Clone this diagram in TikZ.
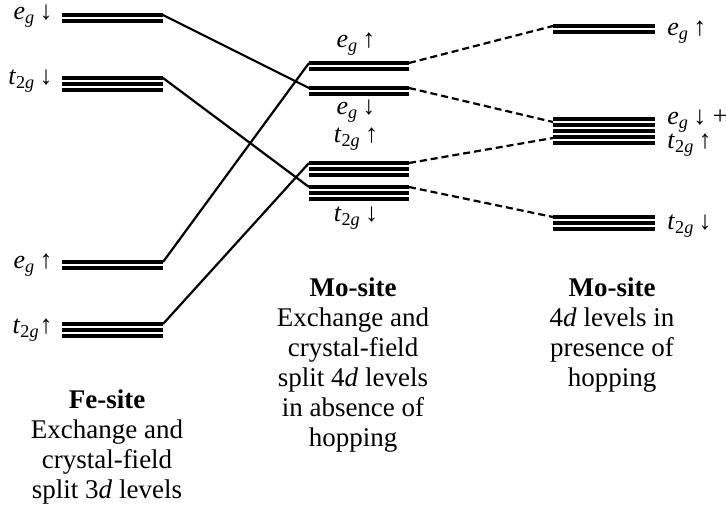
\documentclass[tikz,border=0pt]{standalone}
\usepackage{fontspec}
\setmainfont{Liberation Serif}
\newcommand{\egl}{\textit{e}\textsubscript{\textit{g}}}
\newcommand{\tgl}{\textit{t}\textsubscript{2\textit{g}}}
\newcommand{\levelset}[4]% xleft, xright, ytop, lines
{\foreach \k in {1,...,#4}
  {\draw[level] (#1,#3+6*\k-6) -- (#2,#3+6*\k-6);}
}

\begin{document}
\begin{tikzpicture}[x=0.5pt,y=-0.5pt,
  level/.style={line width=1.6pt},
  link/.style={line width=1.1pt},
  hop/.style={link,dash pattern=on 3.5pt off 2pt},
  lab/.style={font=\fontsize{13}{15}\selectfont,inner sep=0pt},
  site/.style={align=center,font=\fontsize{13.5}{15}\selectfont,inner sep=0pt,anchor=north}]
  \useasboundingbox (0,0) rectangle (726,506);
  % Fe-site levels
  \levelset{62}{163}{15}{2}
  \levelset{62}{163}{78}{3}
  \levelset{62}{163}{262}{2}
  \levelset{62}{163}{324}{3}
  % Mo-site, no hopping
  \levelset{309}{409}{63}{2}
  \levelset{309}{409}{88}{2}
  \levelset{309}{409}{163}{3}
  \levelset{309}{409}{187}{3}
  % Mo-site, hopping
  \levelset{553}{655}{26}{2}
  \levelset{553}{655}{119}{2}
  \levelset{553}{655}{131}{3}
  \levelset{553}{655}{217}{3}
  % end points
  \coordinate (feEgDn) at (163,15);
  \coordinate (feTgDn) at (163,78);
  \coordinate (feEgUp) at (163,262);
  \coordinate (feTgUp) at (163,324);
  \coordinate (moEgUpL) at (309,63);
  \coordinate (moEgDnL) at (309,88);
  \coordinate (moTgUpL) at (309,163);
  \coordinate (moTgDnL) at (309,187);
  \coordinate (moEgUpR) at (409,63);
  \coordinate (moEgDnR) at (409,88);
  \coordinate (moTgUpR) at (409,163);
  \coordinate (moTgDnR) at (409,187);
  \coordinate (hopEgUp) at (553,26);
  \coordinate (hopEgDn) at (553,122);
  \coordinate (hopTgUp) at (553,138);
  \coordinate (hopTgDn) at (553,217);
  \draw[link] (feEgDn) -- (moEgDnL);
  \draw[link] (feTgDn) -- (moTgDnL);
  \draw[link] (feEgUp) -- (moEgUpL);
  \draw[link] (feTgUp) -- (moTgUpL);
  \draw[hop] (moEgUpR) -- (hopEgUp);
  \draw[hop] (moEgDnR) -- (hopEgDn);
  \draw[hop] (moTgUpR) -- (hopTgUp);
  \draw[hop] (moTgDnR) -- (hopTgDn);
  % labels
  \node[lab,anchor=base east] (lFeEgDn) at (53,20) {\egl\,↓};
  \node[lab,anchor=base east] (lFeTgDn) at (53,85) {\tgl\,↓};
  \node[lab,anchor=base east] (lFeEgUp) at (53,269) {\egl\,↑};
  \node[lab,anchor=base east] (lFeTgUp) at (53,334) {\tgl↑};
  \node[lab,anchor=base] (lMoEgUp) at (356,48) {\egl\,↑};
  \node[lab,anchor=base] (lMoEgDn) at (356,115) {\egl\,↓};
  \node[lab,anchor=base] (lMoTgUp) at (356,143) {\tgl\,↑};
  \node[lab,anchor=base] (lMoTgDn) at (356,222) {\tgl\,↓};
  \node[lab,anchor=base west] (lHopEgUp) at (667,36) {\egl\,↑};
  \node[lab,anchor=base west] (lHopEgDn) at (667,125) {\egl\,↓ +};
  \node[lab,anchor=base west] (lHopTgUp) at (667,149) {\tgl\,↑};
  \node[lab,anchor=base west] (lHopTgDn) at (667,230) {\tgl\,↓};
  % site captions
  \node[site] (feText) at (107,389) {\textbf{Fe-site}\\Exchange and\\crystal-field\\split 3\textit{d} levels};
  \node[site] (moText) at (353,277) {\textbf{Mo-site}\\Exchange and\\crystal-field\\split 4\textit{d} levels\\in absence of\\hopping};
  \node[site] (hopText) at (612,277) {\textbf{Mo-site}\\4\textit{d} levels in\\presence of\\hopping};
\end{tikzpicture}
\end{document}
